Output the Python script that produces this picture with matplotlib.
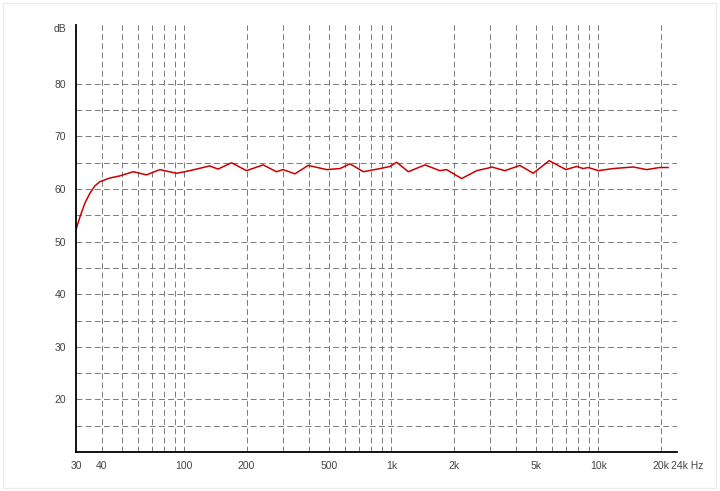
import matplotlib
matplotlib.use("Agg")
from matplotlib import pyplot as plt
from matplotlib.patches import Rectangle

# frequency response
freq = [30, 31.4, 33.1, 35.0, 37.0, 39.1, 43.7, 48.8, 56.7, 65.7, 76.2, 91.8,
        106.4, 132.8, 145.7, 169.2, 199.9, 240.3, 279.0, 300.3, 342.5, 397,
        487.5, 565, 632, 733, 883, 986, 1062, 1209, 1455, 1716, 1850, 2188,
        2587, 2944, 3057, 3541, 4180, 4849, 5791, 6977, 7856, 8454, 8937,
        10001, 11800, 14760, 17100, 19800, 21720]
level = [52.3, 54.8, 57.3, 59.2, 60.6, 61.4, 62.1, 62.5, 63.3, 62.7, 63.7, 63.0,
         63.5, 64.4, 63.8, 65.0, 63.5, 64.6, 63.3, 63.7, 62.9, 64.5,
         63.7, 63.9, 64.8, 63.3, 63.9, 64.3, 65.1, 63.3, 64.6, 63.5, 63.7, 62.0,
         63.5, 64.0, 64.2, 63.5, 64.5, 63.0, 65.4, 63.7, 64.3, 63.9, 64.1,
         63.5, 63.9, 64.2, 63.7, 64.1, 64.1]

xgrid = [40, 50, 60, 70, 80, 90, 100, 200, 300, 400, 500, 600, 700, 800, 900,
         1000, 2000, 3000, 4000, 5000, 6000, 7000, 8000, 9000, 10000, 20000, 24000]
xlabels = {30: "30", 40: "40", 100: "100", 200: "200", 500: "500", 1000: "1k",
           2000: "2k", 5000: "5k", 10000: "10k", 20000: "20k"}
ygrid = [15, 20, 25, 30, 35, 40, 45, 50, 55, 60, 65, 70, 75, 80]
ylabels = [20, 30, 40, 50, 60, 70, 80]

plt.rcParams['font.family'] = ['Liberation Sans Narrow', 'Liberation Sans', 'DejaVu Sans']
plt.rcParams['lines.scale_dashes'] = False

fig = plt.figure(figsize=(7.2, 4.91), dpi=100)
fig.patches.append(Rectangle((0.004, 0.006), 0.99, 0.988, transform=fig.transFigure,
                             fill=False, edgecolor='#ececec', linewidth=1.0))
ax = fig.add_axes([76 / 720, 39 / 491, 601 / 720, 427 / 491])

dash = (0, (4.2, 2.4))
for f in xgrid:
    ax.axvline(f, color='#7a7a7a', lw=0.7, linestyle=dash, zorder=1)
for y in ygrid:
    ax.axhline(y, color='#7a7a7a', lw=0.7, linestyle=dash, zorder=1)

ax.plot(freq, level, color='#cc0000', lw=1.1, zorder=3)

ax.set_xscale('log')
ax.set_xlim(30, 24000)
ax.set_ylim(10, 91.2)

ax.set_xticks(list(xlabels.keys()))
ax.set_xticklabels(list(xlabels.values()))
ax.xaxis.set_minor_locator(matplotlib.ticker.NullLocator())
ax.set_yticks(ylabels)
ax.set_yticklabels([str(v) for v in ylabels])
ax.tick_params(axis='x', length=0, pad=6.5, labelsize=7.5, labelcolor='#444444')
ax.tick_params(axis='y', length=0, pad=7, labelsize=7.5, labelcolor='#444444')

ax.annotate("24k Hz", xy=(24000, 0), xycoords=ax.get_xaxis_transform(),
            xytext=(-4.3, -6.5), textcoords='offset points', ha='left', va='top',
            fontsize=7.5, color='#444444')
ax.annotate("dB", xy=(0, 1), xycoords='axes fraction',
            xytext=(-7, -3), textcoords='offset points', ha='right', va='center',
            fontsize=7.5, color='#444444')

for s in ['top', 'right']:
    ax.spines[s].set_visible(False)
for s in ['left', 'bottom']:
    ax.spines[s].set_linewidth(1.3)
    ax.spines[s].set_color('black')
    ax.spines[s].set_zorder(4)

fig.savefig("out.png", dpi=100)
